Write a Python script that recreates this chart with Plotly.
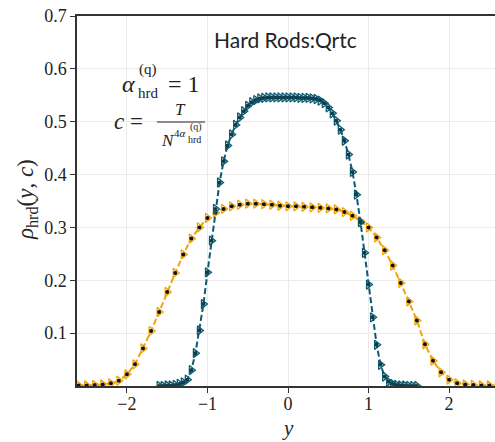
import plotly.graph_objects as go

# ---- data ----
teal_x = [-1.60, -1.55, -1.50, -1.45, -1.40, -1.35, -1.30, -1.25, -1.20, -1.15, -1.10, -1.05,
          -1.00, -0.95, -0.90, -0.85, -0.80, -0.75, -0.70, -0.65, -0.60, -0.55, -0.50, -0.45,
          -0.40, -0.35, -0.30, -0.25, -0.20, -0.15, -0.10, -0.05, 0.00, 0.05, 0.10, 0.15,
          0.20, 0.25, 0.30, 0.35, 0.40, 0.45, 0.50, 0.55, 0.60, 0.65, 0.70, 0.75,
          0.80, 0.85, 0.90, 0.95, 1.00, 1.05, 1.10, 1.15, 1.20, 1.25, 1.30, 1.35,
          1.40, 1.45, 1.50, 1.55, 1.60]
teal_y = [0.000, 0.000, 0.001, 0.001, 0.002, 0.004, 0.007, 0.012, 0.030, 0.062, 0.105, 0.155,
          0.215, 0.275, 0.335, 0.385, 0.425, 0.455, 0.476, 0.494, 0.508, 0.520, 0.530, 0.537,
          0.541, 0.544, 0.545, 0.546, 0.546, 0.546, 0.546, 0.546, 0.546, 0.546, 0.546, 0.545,
          0.545, 0.545, 0.544, 0.543, 0.540, 0.535, 0.527, 0.516, 0.502, 0.485, 0.464, 0.438,
          0.405, 0.362, 0.310, 0.252, 0.192, 0.130, 0.078, 0.040, 0.018, 0.008, 0.004, 0.002,
          0.001, 0.001, 0.000, 0.000, 0.000]

orange_x = [-2.6, -2.5, -2.4, -2.3, -2.2, -2.1, -2.0, -1.9, -1.8, -1.7, -1.6, -1.5, -1.4,
            -1.3, -1.2, -1.1, -1.0, -0.9, -0.8, -0.7, -0.6, -0.5, -0.4, -0.3, -0.2, -0.1,
            0.0, 0.1, 0.2, 0.3, 0.4, 0.5, 0.6, 0.7, 0.8, 0.9, 1.0, 1.1, 1.2, 1.3,
            1.4, 1.5, 1.6, 1.7, 1.8, 1.9, 2.0, 2.1, 2.2, 2.3, 2.4, 2.5, 2.6]
orange_y = [0.001, 0.001, 0.002, 0.003, 0.005, 0.010, 0.022, 0.041, 0.071, 0.104, 0.140, 0.178, 0.214,
            0.249, 0.279, 0.300, 0.318, 0.328, 0.335, 0.340, 0.343, 0.345, 0.345, 0.344, 0.343, 0.341,
            0.340, 0.340, 0.339, 0.338, 0.337, 0.336, 0.334, 0.329, 0.322, 0.312, 0.300, 0.281, 0.257, 0.228,
            0.195, 0.160, 0.124, 0.079, 0.048, 0.026, 0.012, 0.005, 0.003, 0.002, 0.001, 0.001, 0.001]

x_ticks = [-2, -1, 0, 1, 2]
y_ticks = [0.1, 0.2, 0.3, 0.4, 0.5, 0.6, 0.7]

TEAL = "#0e5b70"
ORANGE = "#f0a30a"

fig = go.Figure()

for xs, ys, col, dotcol in [(orange_x, orange_y, ORANGE, "#111111"), (teal_x, teal_y, TEAL, "#0a3e4c")]:
    fig.add_trace(go.Scatter(x=xs, y=ys, mode="lines",
                             line=dict(color=col, width=2, dash="6px,3px"), showlegend=False))
    fig.add_trace(go.Scatter(x=xs, y=ys, mode="markers",
                             marker=dict(symbol="triangle-right-open", size=8,
                                         color=col, line=dict(width=1.3, color=col)),
                             showlegend=False))
    fig.add_trace(go.Scatter(x=xs, y=ys, mode="markers",
                             marker=dict(symbol="circle", size=4, color=dotcol),
                             showlegend=False))

L, T, W, H = 77, 16, 418, 370


def px(x):
    return (x - L) / W


def py(y):
    return (T + H - y) / H


SERIF = "Liberation Serif, Times New Roman, serif"
anns = []


def txt(x, y, s, size, xa="center", ya="middle", fam=SERIF):
    anns.append(dict(x=px(x), y=py(y), xref="paper", yref="paper", text=s, showarrow=False,
                     xanchor=xa, yanchor=ya, font=dict(family=fam, size=size, color="#222222")))


# alpha_hrd^(q) = 1
txt(128, 84, "<i>α</i>", 24)
txt(137, 70, "(q)", 15, xa="left")
txt(136, 93, "hrd", 15, xa="left")
txt(166, 84, "= 1", 24, xa="left")
# c = T / N^{4 alpha}
txt(112, 122, "<i>c</i> =", 23, xa="left")
txt(180, 110, "<i>T</i>", 17)
txt(159, 140, "<i>N</i>", 17, xa="left")
txt(172, 133, "4<i>α</i>", 11, xa="left")
txt(188, 127, "(q)", 10, xa="left")
txt(186, 139, "hrd", 10, xa="left")

# title
txt(285, 39, "Hard Rods:Qrtc", 21, fam="Lato")
# axis labels
txt(288, 442, "<i>y</i>", 21, ya="bottom")
anns.append(dict(x=px(27), y=py(200), xref="paper", yref="paper",
                 text="<i>ρ</i><sub>hrd</sub>(<i>y</i>, <i>c</i>)", textangle=-90, showarrow=False,
                 xanchor="center", yanchor="middle", font=dict(family=SERIF, size=23, color="#222222")))

fig.update_layout(
    width=495, height=442,
    margin=dict(l=L, r=0, t=T, b=442 - T - H),
    plot_bgcolor="white", paper_bgcolor="white",
    annotations=anns,
    shapes=[dict(type="line", xref="paper", yref="paper", x0=px(157), x1=px(205),
                 y0=py(122), y1=py(122), line=dict(color="#222222", width=1))],
)
fig.update_xaxes(range=[-2.62, 2.57], tickvals=x_ticks, ticks="outside", ticklen=5,
                 tickcolor="#333333", showline=True, linecolor="#333333", linewidth=1.5,
                 mirror=True, showgrid=True, gridcolor="#ebebeb", gridwidth=1, zeroline=False,
                 ticklabelstandoff=-4,
                 tickfont=dict(family=SERIF, size=18, color="#222222"))
fig.update_yaxes(range=[0, 0.7], tickvals=y_ticks, ticktext=[f"{v:.1f}" for v in y_ticks],
                 ticks="outside", ticklen=5, tickcolor="#333333", showline=True,
                 linecolor="#333333", linewidth=1.5, showgrid=True, gridcolor="#ebebeb",
                 gridwidth=1, zeroline=False,
                 tickfont=dict(family=SERIF, size=18, color="#222222"))

fig.write_html("out.html")
